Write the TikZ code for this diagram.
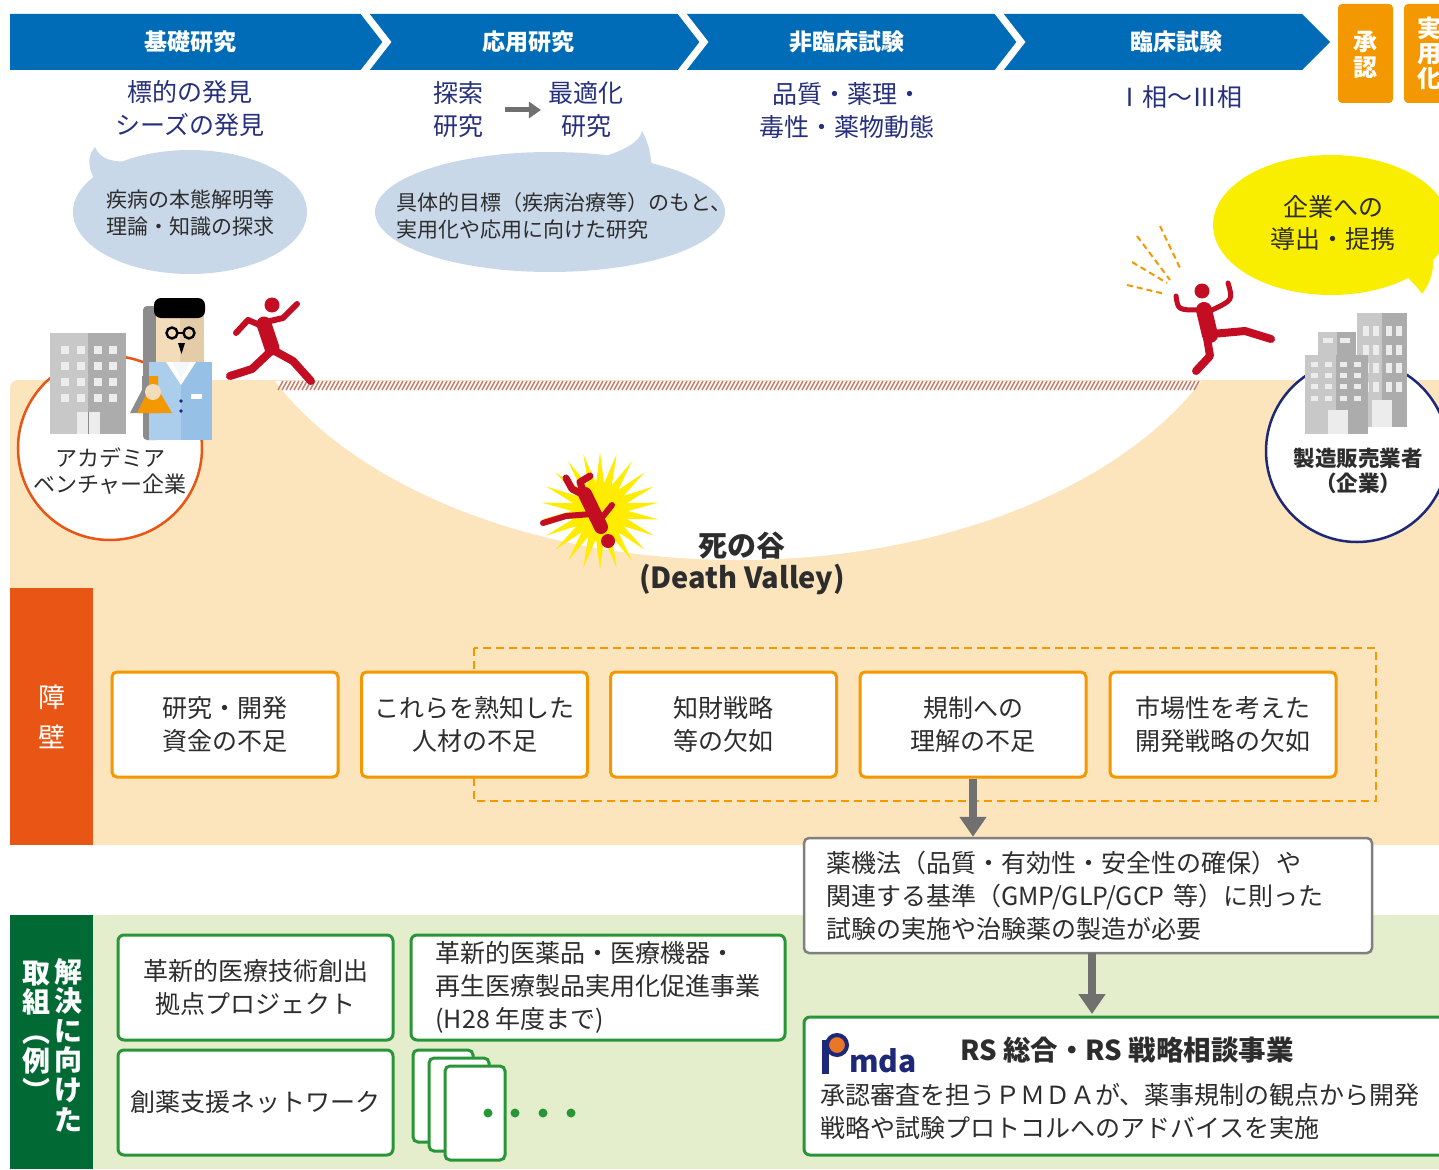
\documentclass[tikz,border=0pt]{standalone}
\usepackage{fontspec}
\setmainfont{Noto Sans CJK JP}
\usetikzlibrary{arrows.meta,shapes.geometric}

\definecolor{hdrblue}{RGB}{0,108,183}
\definecolor{navytxt}{RGB}{38,48,125}
\definecolor{bubble}{RGB}{200,216,233}
\definecolor{ground}{RGB}{252,228,188}
\definecolor{rope}{RGB}{196,130,110}
\definecolor{barrier}{RGB}{233,85,20}
\definecolor{boxorange}{RGB}{243,152,0}
\definecolor{soldark}{RGB}{0,105,52}
\definecolor{sollight}{RGB}{228,238,204}
\definecolor{solgreen}{RGB}{40,150,55}
\definecolor{arrowgray}{RGB}{112,112,112}
\definecolor{boxgray}{RGB}{128,128,128}
\definecolor{runred}{RGB}{195,13,35}
\definecolor{sunyellow}{RGB}{255,236,0}
\definecolor{bubyellow}{RGB}{250,238,0}
\definecolor{txt}{RGB}{45,45,45}
\definecolor{bldlight}{RGB}{200,200,200}
\definecolor{blddark}{RGB}{172,172,172}
\definecolor{winwhite}{RGB}{236,236,236}
\definecolor{compnavy}{RGB}{30,40,120}
\definecolor{skin}{RGB}{242,220,186}
\definecolor{skindark}{RGB}{228,204,168}
\definecolor{coatblue}{RGB}{170,206,236}
\definecolor{coatdark}{RGB}{150,192,230}
\definecolor{shadowgray}{RGB}{140,140,140}
\definecolor{pmorange}{RGB}{232,120,40}

\begin{document}
\begin{tikzpicture}[x=1pt,y=-1pt,
  hdr/.style={text=white,font=\fontsize{23}{26}\selectfont\bfseries},
  vlab/.style={text=white,align=center,inner sep=0pt},
  sub/.style={text=navytxt,font=\fontsize{25}{33}\selectfont,align=center},
  bub/.style={text=txt,font=\fontsize{21}{27}\selectfont,align=left},
  circtxt/.style={text=txt,font=\fontsize{22}{26}\selectfont,align=center},
  bbox/.style={draw=boxorange,line width=3pt,fill=white,rounded corners=5pt,
    minimum width=226pt,minimum height=105pt,text=txt,
    font=\fontsize{25}{33}\selectfont,align=center},
  sbox/.style={draw=solgreen,line width=3pt,fill=white,rounded corners=6pt,
    minimum height=105pt,text=txt,font=\fontsize{25}{33}\selectfont},
  card/.style={draw=solgreen,line width=3pt,fill=white,rounded corners=5pt},
  garrow/.style={draw=arrowgray,line width=8pt,-{Triangle[width=26pt,length=20pt]}},
  runner/.style={draw=runred,line cap=round,line join=round}]

\useasboundingbox (0,0) rectangle (1439,1169);
\clip (0,0) rectangle (1439,1169);

% ---------- process header ----------
\fill[hdrblue] (10,14) -- (1302,14) -- (1330,42) -- (1302,70) -- (10,70) -- cycle;
\foreach \s in {359,676,993}
  \draw[white,line width=7pt,line join=miter] (\s,6) -- (\s+28,42) -- (\s,78);
\node[hdr] (h1) at (190,42) {基礎研究};
\node[hdr] (h2) at (528,42) {応用研究};
\node[hdr] (h3) at (847,42) {非臨床試験};
\node[hdr] (h4) at (1176,42) {臨床試験};

\fill[boxorange,rounded corners=4pt] (1338,4) rectangle (1393,103);
\node[vlab,font=\fontsize{24}{26}\selectfont\bfseries] (appr) at (1365.5,55) {承\\認};
\fill[boxorange,rounded corners=4pt] (1404,4) rectangle (1475,103);
\node[vlab,font=\fontsize{24}{25}\selectfont\bfseries] (prac) at (1429,53) {実\\用\\化};

% ---------- stage contents ----------
\node[sub] (s1) at (190,109) {標的の発見\\シーズの発見};
\node[sub] (ex) at (458,110) {探索\\研究};
\node[sub] (op) at (586,110) {最適化\\研究};
\draw[arrowgray,line width=5pt,-{Triangle[width=16pt,length=12pt]}]
  ([xshift=18pt]ex.east) -- ([xshift=-4pt]op.west);
\node[sub] (s3) at (847,111) {品質・薬理・\\毒性・薬物動態};
\node[sub] (s4) at (1180,97) {Ⅰ相～Ⅲ相};

% ---------- speech bubbles ----------
\fill[bubble] (98,185) .. controls (88,170) and (86,158) .. (95,147)
  .. controls (100,160) and (115,164) .. (140,160) -- cycle;
\fill[bubble] (190,212) ellipse [x radius=117, y radius=62];
\node[bub,align=center] (bt1) at (190,213) {疾病の本態解明等\\理論・知識の探求};

\fill[bubble] (600,158) .. controls (625,150) and (640,142) .. (642,131)
  .. controls (650,145) and (650,155) .. (652,166) -- cycle;
\fill[bubble] (550,212) ellipse [x radius=175, y radius=60];
\node[bub,anchor=west] (bt2) at (393,216) {具体的目標（疾病治療等）のもと、\\実用化や応用に向けた研究};

\fill[bubyellow] (1405,275) .. controls (1415,285) and (1420,290) .. (1422,294)
  .. controls (1432,280) and (1435,268) .. (1432,250) -- cycle;
\fill[bubyellow] (1331,225) ellipse [x radius=118, y radius=70];
\node[circtxt,font=\fontsize{25}{32}\selectfont] (bt3) at (1333,223) {企業への\\導出・提携};

% ---------- ground and valley ----------
\fill[ground,rounded corners=8pt] (10,845) -- (10,380) -- (1460,380) -- (1460,845) -- cycle;
\begin{scope}
  \clip (0,381) rectangle (1439,700);
  \fill[white] (738,250) ellipse [x radius=511, y radius=310];
\end{scope}
\foreach \x in {278,282,...,1194}
  \draw[rope,line width=1.5pt] (\x,390) -- (\x+5,381);

% ---------- academia ----------
\node[circle,draw=barrier,line width=2.5pt,fill=white,minimum size=184pt,inner sep=0pt] (acad) at (110,448) {};
\fill[bldlight] (50,333) rectangle (88,434);
\fill[blddark] (88,333) rectangle (126,434);
\foreach \wx in {61,77,94,109}
  \foreach \wy in {346,362,378,394}
    \fill[winwhite] (\wx,\wy) rectangle ++(8,8);
\fill[winwhite] (77,412) rectangle (100,434);
\draw[blddark!80!black,line width=0.8pt] (88.5,412) -- (88.5,434);

% scientist
\fill[shadowgray,rounded corners=4pt] (143,306) rectangle (160,440);
\fill[skin] (156,310) rectangle (180,365);
\fill[skindark] (180,310) rectangle (204,365);
\fill[black,rounded corners=7pt] (154,318) -- (154,298) -- (205,298) -- (205,318) -- cycle;
\draw[black,line width=2.4pt] (172,333) circle (5.5);
\draw[black,line width=2.4pt] (189,333) circle (5.5);
\draw[black,line width=2pt] (177.5,333) -- (183.5,333);
\fill[black] (178,343) -- (185,343) -- (181.5,354) -- cycle;
\fill[coatblue] (149,362) rectangle (181,440);
\fill[coatdark] (181,362) rectangle (212,440);
\fill[white] (166,362) -- (181,385) -- (196,362) -- cycle;
\fill[white!85!coatblue] (172,362) -- (181,378) -- (190,362) -- cycle;
\fill[shadowgray] (130,413) -- (142,390) -- (142,376) -- (150,376) -- (150,390) -- (160,413) -- cycle;
\fill[boxorange] (137,413) -- (149,389) -- (149,376) -- (158,376) -- (158,389) -- (172,413) -- cycle;
\fill[skin] (153,392) circle (8);
\fill[compnavy] (181,401) circle (1.9);
\fill[compnavy] (181,411) circle (1.9);
\fill[white] (191,394) rectangle (202,399);
\node[circtxt] (acadlbl) at (110,471) {アカデミア\\ベンチャー企業};

% ---------- company ----------
\node[circle,draw=compnavy,line width=2.5pt,fill=white,minimum size=182pt,inner sep=0pt] (comp) at (1357,451) {};
\fill[bldlight] (1357,313) rectangle (1382,427);
\fill[blddark] (1382,313) rectangle (1407,427);
\foreach \wx in {1363,1373,1386,1396}
  \foreach \wy in {326,345,363,382}
    \fill[winwhite] (\wx,\wy) rectangle ++(6,10);
\fill[winwhite] (1372,400) rectangle (1392,427);
\fill[bldlight] (1318,332) rectangle (1337,358);
\fill[blddark] (1337,332) rectangle (1356,358);
\fill[winwhite] (1323,338) rectangle ++(10,5);
\fill[winwhite] (1340,338) rectangle ++(10,5);
\fill[bldlight] (1305,355) rectangle (1336,434);
\fill[blddark] (1336,355) rectangle (1368,434);
\foreach \wx in {1311,1325,1340,1354}
  \foreach \wy in {362,373,384,396}
    \fill[winwhite] (\wx,\wy) rectangle ++(7,5);
\fill[winwhite] (1328,410) rectangle (1348,434);
\node[circtxt,font=\fontsize{21.5}{25}\selectfont\bfseries] (complbl) at (1358,471) {製造販売業者\\（企業）};

% ---------- runners ----------
\fill[runred] (272,305) circle (7.5);
\draw[runner,line width=15pt] (264,324) -- (272,348);
\draw[runner,line width=6pt] (266,322) -- (283,318) -- (297,304);
\draw[runner,line width=6pt] (262,326) -- (248,320) -- (236,333);
\draw[runner,line width=8pt] (273,350) -- (293,361) -- (311,381);
\draw[runner,line width=8pt] (270,352) -- (252,369) -- (230,376);

\foreach \ax/\ay/\bx/\by in {1160/226/1180/268, 1137/236/1170/280, 1132/262/1167/283, 1127/285/1165/294}
  \draw[boxorange,line width=2pt,dash pattern=on 6pt off 4pt] (\ax,\ay) -- (\bx,\by);
\fill[runred] (1202,291) circle (7.5);
\draw[runner,line width=16pt] (1204,310) -- (1210,335);
\draw[runner,line width=5pt] (1176,296) .. controls (1178,310) .. (1200,310);
\draw[runner,line width=5pt] (1228,283) .. controls (1233,300) .. (1212,310);
\draw[runner,line width=8pt] (1212,334) -- (1245,331) -- (1271,339);
\draw[runner,line width=8pt] (1207,338) -- (1210,356) -- (1196,371);

% ---------- fall into the valley ----------
\node[star,star points=22,star point ratio=2.1,fill=sunyellow,minimum size=118pt,inner sep=0pt] (burst) at (600,511) {};
\draw[runner,line width=14pt] (585,494) -- (601,527);
\fill[runred] (608,541) circle (7);
\draw[runner,line width=6pt] (592,514) -- (566,516) -- (543,523);
\draw[runner,line width=6pt] (600,520) -- (612,505);
\draw[runner,line width=7pt] (584,494) -- (580,482) -- (590,476);
\draw[runner,line width=7pt] (586,496) -- (572,489) -- (566,478);
\node[text=txt,font=\fontsize{29}{30}\selectfont\bfseries] (dv1) at (742,546) {死の谷};
\node[text=txt,font=\fontsize{29}{30}\selectfont\bfseries] (dv2) at (742,579) {(Death Valley)};

% ---------- barriers ----------
\fill[barrier] (10,588) rectangle (93,845);
\node[vlab,font=\fontsize{27}{40}\selectfont] (barrlbl) at (52,717) {障\\壁};
\draw[boxorange,line width=2pt,dash pattern=on 8pt off 5pt] (474,648) rectangle (1376,801);
\node[bbox] (b1) at (225,724.5) {研究・開発\\資金の不足};
\node[bbox] (b2) at (474.5,724.5) {これらを熟知した\\人材の不足};
\node[bbox] (b3) at (723.5,724.5) {知財戦略\\等の欠如};
\node[bbox] (b4) at (973,724.5) {規制への\\理解の不足};
\node[bbox] (b5) at (1223,724.5) {市場性を考えた\\開発戦略の欠如};

% ---------- solutions ----------
\fill[sollight] (10,915) rectangle (1439,1169);
\fill[soldark] (10,915) rectangle (93,1169);
\node[vlab,font=\fontsize{28}{29.6}\selectfont\bfseries] (sol1) at (68,1045) {解\\決\\に\\向\\け\\た};
\node[vlab,font=\fontsize{28}{29.6}\selectfont\bfseries] (sol2) at (36,1031) {取\\組\\︵\\例\\︶};

\node[draw=boxgray,line width=2.5pt,fill=white,rounded corners=5pt,text width=524pt,
  inner xsep=22pt,minimum height=115pt,align=left,text=txt,font=\fontsize{25}{33}\selectfont] (yk) at (1088,895.5)
  {薬機法（品質・有効性・安全性の確保）や\\関連する基準（GMP/GLP/GCP 等）に則った\\試験の実施や治験薬の製造が必要};
\draw[garrow] (b4.south) -- (b4.south |- yk.north);

\node[sbox,minimum width=275pt,align=center] (sA) at (255.5,987.5) {革新的医療技術創出\\拠点プロジェクト};
\node[sbox,minimum width=374pt,align=left] (sB) at (598,987.5) {革新的医薬品・医療機器・\\再生医療製品実用化促進事業\\(H28 年度まで)};
\node[sbox,minimum width=275pt] (sC) at (255.5,1102.5) {創薬支援ネットワーク};
\draw[card] (413,1050) rectangle (473,1142);
\draw[card] (429,1058) rectangle (489,1151);
\draw[card] (445,1066) rectangle (505,1160);
\foreach \dx in {488,515,543,571}
  \fill[solgreen] (\dx,1113) circle (4.5);

\node[draw=solgreen,line width=3pt,fill=white,rounded corners=6pt,minimum width=656pt,
  minimum height=138pt] (pm) at (1132,1086) {};
\draw[garrow] (1092,953) -- (1092,1014);
% Pmda logo
\fill[compnavy] (822,1040) rectangle (829,1074);
\draw[compnavy,line width=4pt,fill=pmorange] (837,1045) circle (10);
\node[anchor=base west,inner sep=0pt,text=compnavy,font=\fontsize{30}{30}\selectfont\bfseries] (mda) at (849,1072) {mda};
\node[anchor=west,inner sep=0pt,text=txt,font=\fontsize{27.5}{30}\selectfont\bfseries] (pmtitle) at (960,1050) {RS 総合・RS 戦略相談事業};
\node[anchor=west,inner sep=0pt,align=left,text=txt,font=\fontsize{25}{33}\selectfont] (pmbody) at (820,1111)
  {承認審査を担うＰＭＤＡが、薬事規制の観点から開発\\戦略や試験プロトコルへのアドバイスを実施};

\end{tikzpicture}
\end{document}
